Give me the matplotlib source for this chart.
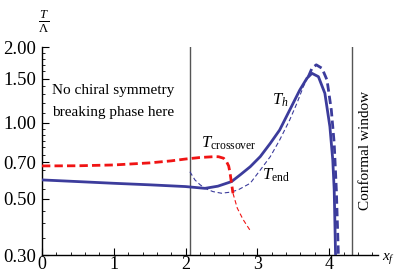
import matplotlib
matplotlib.use("Agg")
import matplotlib.pyplot as plt
from matplotlib.ticker import FixedLocator, NullFormatter

plt.rcParams['font.family'] = ['Liberation Serif', 'DejaVu Serif']
plt.rcParams['mathtext.fontset'] = 'custom'
plt.rcParams['mathtext.rm'] = 'Liberation Serif'
plt.rcParams['mathtext.it'] = 'Liberation Serif:italic'

# T_h (solid)
th_x = [0, 0.5, 1.0, 1.5, 2.0, 2.27, 2.45, 2.64, 2.76, 2.90, 3.04, 3.18, 3.31,
        3.45, 3.59, 3.69, 3.76, 3.85, 3.94, 4.01, 4.05, 4.07, 4.09]
th_y = [0.595, 0.586, 0.577, 0.569, 0.56, 0.551, 0.562, 0.586, 0.623, 0.671, 0.736,
        0.831, 0.938, 1.125, 1.35, 1.504, 1.573, 1.526, 1.311, 0.967, 0.714, 0.543, 0.29]

# T_end (thin dashed)
te_x = [2.06, 2.13, 2.20, 2.27, 2.38, 2.50, 2.62, 2.73, 2.90, 3.04, 3.18, 3.31,
        3.45, 3.55, 3.64, 3.71]
te_y = [0.641, 0.595, 0.570, 0.551, 0.535, 0.527, 0.532, 0.543, 0.577, 0.651, 0.736,
        0.856, 1.028, 1.196, 1.393, 1.526]

# upper thick dashed branch
tu_x = [3.71, 3.76, 3.82, 3.90, 3.97, 4.03, 4.07, 4.10, 4.13]
tu_y = [1.526, 1.647, 1.70, 1.647, 1.48, 1.125, 0.831, 0.543, 0.29]

# T_crossover (thick red dashed)
tc_x = [0, 0.5, 1.0, 1.5, 1.8, 2.0, 2.2, 2.41, 2.46, 2.53, 2.57, 2.60, 2.62, 2.64, 2.66]
tc_y = [0.676, 0.677, 0.682, 0.695, 0.708, 0.72, 0.73, 0.736, 0.735, 0.725, 0.703,
        0.676, 0.632, 0.577, 0.527]

# continuation (thin red dashed)
tcc_x = [2.66, 2.72, 2.80, 2.90]
tcc_y = [0.527, 0.46, 0.415, 0.375]

vlines_x = [2.06, 4.32]
yticks = [0.3, 0.5, 0.7, 1.0, 1.5, 2.0]
ytick_labels = ["0.30", "0.50", "0.70", "1.00", "1.50", "2.00"]
xticks = [0, 1, 2, 3, 4]

blue = '#3c3c9c'
red = '#f01414'

fig = plt.figure(figsize=(3.98, 2.72), dpi=100)
ax = fig.add_axes([42/398, 1-255/272, (378-42)/398, (255-47)/272])
ax.set_yscale('log')
ax.set_xlim(0, 4.68)
ax.set_ylim(0.3, 2.0)

for v in vlines_x:
    ax.axvline(v, color='#555555', lw=1.0, zorder=1)

ax.plot(th_x, th_y, color=blue, lw=2.0, solid_capstyle='butt', solid_joinstyle='round', zorder=3)
ax.plot(te_x, te_y, color=blue, lw=0.8, dashes=(4, 2.5), zorder=3)
ax.plot(tu_x, tu_y, color=blue, lw=2.0, dashes=(3, 1.5), zorder=3)
ax.plot(tc_x, tc_y, color=red, lw=2.0, dashes=(3, 1.5), zorder=4)
ax.plot(tcc_x, tcc_y, color=red, lw=0.8, dashes=(4, 2.5), zorder=4)

for s in ['top', 'right']:
    ax.spines[s].set_visible(False)
ax.spines['left'].set_linewidth(1.0)
ax.spines['bottom'].set_linewidth(1.0)

ax.yaxis.set_major_locator(FixedLocator(yticks))
ax.set_yticklabels(ytick_labels)
minor_y = [0.35, 0.4, 0.45, 0.55, 0.6, 0.65, 0.75, 0.8, 0.85, 0.9, 0.95,
           1.1, 1.2, 1.3, 1.4, 1.6, 1.7, 1.8, 1.9]
ax.yaxis.set_minor_locator(FixedLocator(minor_y))
ax.yaxis.set_minor_formatter(NullFormatter())
ax.xaxis.set_major_locator(FixedLocator(xticks))
ax.xaxis.set_minor_locator(FixedLocator([i * 0.2 for i in range(24)]))
ax.tick_params(which='major', direction='in', length=5, width=0.8, labelsize=13.5, pad=4)
ax.tick_params(axis='x', which='major', labelsize=13, pad=1)
ax.tick_params(which='minor', direction='in', length=2.5, width=0.6)

ax.text(0.14, 1.35, "No chiral symmetry", fontsize=11, ha='left', va='center')
ax.text(0.14, 1.10, "breaking phase here", fontsize=11, ha='left', va='center')
ax.text(2.22, 0.83, r"$T_{\mathrm{crossover}}$", fontsize=12, ha='left', va='center')
ax.text(3.2, 1.23, r"$T_h$", fontsize=12, ha='left', va='center')
ax.text(3.07, 0.62, r"$T_{\mathrm{end}}$", fontsize=12, ha='left', va='center')
ax.text(4.51, 0.78, "Conformal window", fontsize=11, rotation=90, ha='center', va='center')

fig.text(389/398, 1-258/272, r"$x_f$", fontsize=11, ha='center', va='center')
fig.text(44/398, 1-21/272, r"$\frac{T}{\Lambda}$", fontsize=13, ha='center', va='center')

fig.savefig("out.png", dpi=100)
